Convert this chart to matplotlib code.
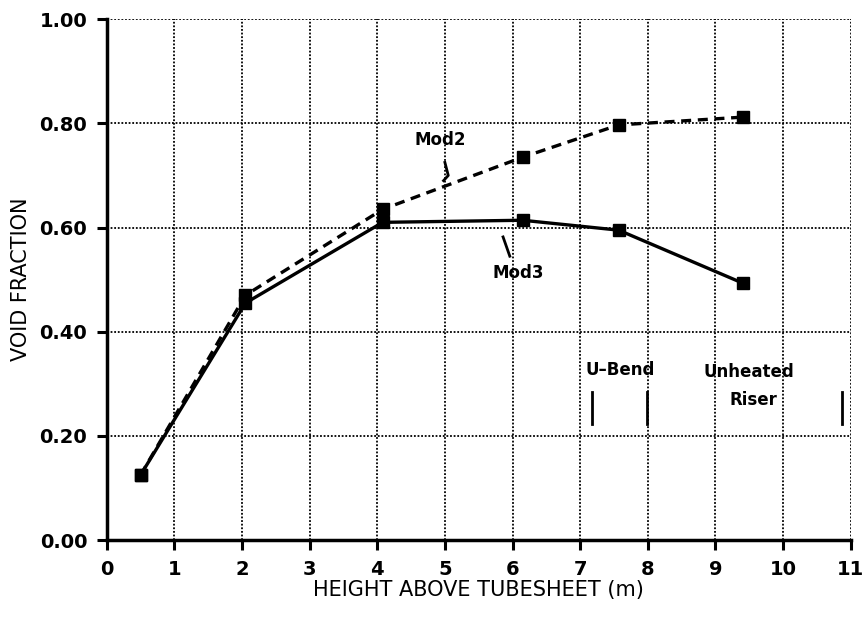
import numpy as np
import matplotlib.pyplot as plt

# heights above tubesheet (m)
height = [0.5, 2.05, 4.08, 6.15, 7.57, 9.41]
# void fraction, two model versions
mod2 = [0.125, 0.47, 0.635, 0.735, 0.797, 0.812]
mod3 = [0.125, 0.455, 0.61, 0.614, 0.595, 0.493]

xticks = list(range(0, 12))
yticks = [0.0, 0.2, 0.4, 0.6, 0.8, 1.0]
ytick_labels = ['0.00', '0.20', '0.40', '0.60', '0.80', '1.00']

fig = plt.figure(figsize=(8.68, 6.18), dpi=100)
ax = fig.add_axes([0.123, 0.126, 0.857, 0.843])

ax.plot(height, mod2, color='black', lw=2.4, ls=(0, (3, 2)),
        marker='s', ms=8, mfc='black', mec='black')
ax.plot(height, mod3, color='black', lw=2.4, ls='-',
        marker='s', ms=8, mfc='black', mec='black')

ax.set_xlim(0, 11)
ax.set_ylim(0, 1.0)
ax.set_xticks(xticks)
ax.set_yticks(yticks)
ax.set_yticklabels(ytick_labels)
ax.tick_params(direction='out', length=7, width=2.2, labelsize=14, pad=7)
for lab in ax.get_xticklabels() + ax.get_yticklabels():
    lab.set_fontweight('bold')

ax.grid(True, color='black', ls=(0, (1, 1)), lw=1.3)
ax.spines['left'].set_linewidth(2.5)
ax.spines['bottom'].set_linewidth(2.5)
ax.spines['top'].set_visible(False)
ax.spines['right'].set_visible(False)

ax.set_xlabel('HEIGHT ABOVE TUBESHEET (m)', fontsize=15, labelpad=1)
ax.set_ylabel('VOID FRACTION', fontsize=15, labelpad=6)

# curve labels with leader marks
ax.text(4.93, 0.768, 'Mod2', fontsize=12, fontweight='bold', ha='center', va='center')
ax.plot([5.0, 5.05, 4.98], [0.725, 0.70, 0.69], color='black', lw=2)
ax.text(6.08, 0.512, 'Mod3', fontsize=12, fontweight='bold', ha='center', va='center')
ax.plot([5.86, 5.96], [0.582, 0.545], color='black', lw=2)

# region markers
ax.text(7.59, 0.326, 'U\u2013Bend', fontsize=12, fontweight='bold', ha='center', va='center')
ax.plot([7.17, 7.17], [0.222, 0.284], color='black', lw=2)
ax.plot([7.99, 7.99], [0.222, 0.284], color='black', lw=2)
ax.text(9.49, 0.322, 'Unheated', fontsize=12, fontweight='bold', ha='center', va='center')
ax.text(9.56, 0.269, 'Riser', fontsize=12, fontweight='bold', ha='center', va='center')
ax.plot([10.87, 10.87], [0.222, 0.284], color='black', lw=2)

fig.savefig('out.png', dpi=100)
